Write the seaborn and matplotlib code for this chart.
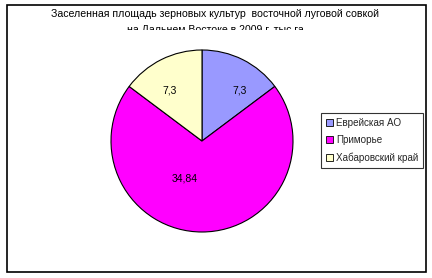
import matplotlib
matplotlib.use("Agg")
import matplotlib.pyplot as plt
import seaborn as sns
import numpy as np
from matplotlib.patches import Rectangle
from matplotlib.transforms import Bbox

categories = ["Еврейская АО", "Приморье", "Хабаровский край"]
values = [7.3, 34.84, 7.3]
value_labels = ["7,3", "34,84", "7,3"]
colors = ["#9999FF", "#FF00FF", "#FFFFCC"]
title = "Заселенная площадь зерновых культур  восточной луговой совкой\nна Дальнем Востоке в 2009 г. тыс.га"

sns.set_theme(style="white")
plt.rcParams['font.family'] = ['Liberation Sans', 'DejaVu Sans']

W, H = 432, 278
fig = plt.figure(figsize=(W / 100, H / 100), dpi=100)
fig.patch.set_facecolor("white")

# outer frame
fig.patches.append(Rectangle((6.5 / W, 1 - 271.5 / H), 419.5 / W, 267 / H,
                             transform=fig.transFigure, fill=False,
                             edgecolor="black", linewidth=1.2, zorder=0))

# pie axes: center (202,141), radius 91 px
cx, cy, r = 202, 141, 91
ax = fig.add_axes([(cx - r) / W, 1 - (cy + r) / H, 2 * r / W, 2 * r / H])
wedges, _ = ax.pie(values, colors=colors, startangle=90, counterclock=False,
                   wedgeprops=dict(edgecolor="black", linewidth=0.8))
ax.set_xlim(-1, 1)
ax.set_ylim(-1, 1)
ax.set_aspect("equal")
ax.axis("off")

dist = [0.69, 0.45, 0.66]
dang = [-10, -25, 6]
for w, lab, d, da in zip(wedges, value_labels, dist, dang):
    ang = np.deg2rad((w.theta1 + w.theta2) / 2 + da)
    ax.text(d * np.cos(ang), d * np.sin(ang), lab, ha="center", va="center",
            fontsize=7.5, color="black")

# title (lower part hidden behind plot area as in original)
t = fig.text(215 / W, 1 - 9 / H, title, ha="center", va="top", fontsize=7.6,
             linespacing=1.75, color="black")
t.set_clip_box(Bbox.from_extents(0, H - 30, W, H))

# legend
leg = fig.legend(wedges, categories, loc="upper left",
                 bbox_to_anchor=(321 / W, 1 - 113 / H), fontsize=7.1,
                 frameon=True, fancybox=False, edgecolor="black",
                 handlelength=0.7, handleheight=0.7, handletextpad=0.3,
                 labelspacing=0.75, borderpad=0.5, borderaxespad=0)
leg.get_frame().set_linewidth(0.8)
for h in leg.legend_handles:
    h.set_linewidth(0.6)

fig.savefig("out.png", dpi=100, facecolor="white")
